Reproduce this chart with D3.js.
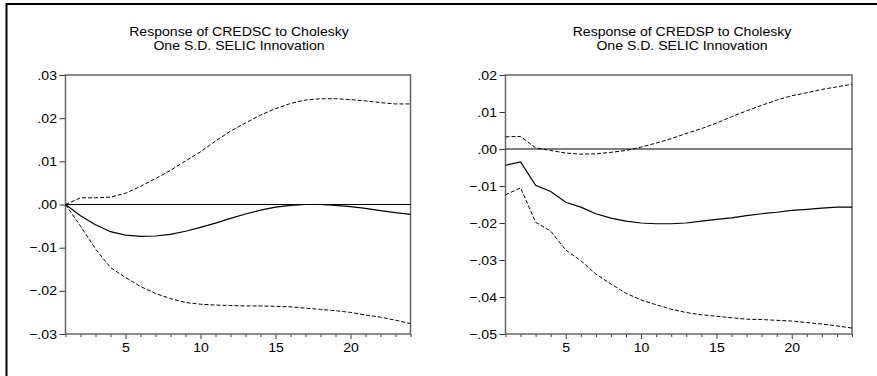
<!DOCTYPE html>
<html lang="en">
<head>
<meta charset="UTF-8">
<title>Impulse responses</title>
<script src="https://d3js.org/d3.v7.min.js"></script>
<style>
  body { margin: 0; background: #fff; }
  svg text { font-family: Arial, "Liberation Sans", sans-serif; fill: #000; }
</style>
</head>
<body>
<svg id="canvas" width="877" height="376"></svg>
<script>
// periods 1..24
const periods = d3.range(1, 25);

// CREDSC response and +/- 2 S.E. bands
const credscIrf = [0, -0.0026, -0.0047, -0.0063, -0.0071, -0.0074, -0.0073, -0.0069, -0.0062, -0.0053,
  -0.0043, -0.0032, -0.0022, -0.0013, -0.0006, -0.0002, 0.0000, 0.0000, -0.0002, -0.0005,
  -0.0009, -0.0014, -0.0019, -0.0023];
const credscUpper = [0, 0.00155, 0.00155, 0.0017, 0.0026, 0.0042, 0.0060, 0.0079, 0.0101, 0.0122,
  0.0147, 0.0170, 0.0189, 0.0207, 0.0222, 0.0234, 0.0242, 0.0245, 0.0245, 0.0243,
  0.0240, 0.0236, 0.0233, 0.0233];
const credscLower = [0, -0.0050, -0.0103, -0.0146, -0.0169, -0.0190, -0.0206, -0.0218, -0.0227, -0.0231,
  -0.0233, -0.0234, -0.0235, -0.0235, -0.0236, -0.0237, -0.0240, -0.0243, -0.0246, -0.0250,
  -0.0256, -0.0261, -0.0268, -0.0276];

// CREDSP response and bands
const credspIrf = [-0.0044, -0.0035, -0.0098, -0.0115, -0.0144, -0.0157, -0.0175, -0.0187, -0.0195, -0.0200,
  -0.0202, -0.0202, -0.0200, -0.0195, -0.0190, -0.0186, -0.0180, -0.0175, -0.0171, -0.0166,
  -0.0163, -0.0160, -0.0157, -0.0157];
const credspUpper = [0.0033, 0.0034, 0.0003, -0.0004, -0.0011, -0.0014, -0.0013, -0.0009, -0.0004, 0.0005,
  0.0016, 0.0028, 0.0042, 0.0055, 0.0070, 0.0087, 0.0103, 0.0118, 0.0132, 0.0144,
  0.0152, 0.0161, 0.0168, 0.0175];
const credspLower = [-0.0124, -0.0105, -0.0198, -0.0222, -0.0273, -0.0302, -0.0338, -0.0365, -0.0390, -0.0408,
  -0.0421, -0.0433, -0.0442, -0.0448, -0.0452, -0.0456, -0.0460, -0.0461, -0.0463, -0.0465,
  -0.0469, -0.0473, -0.0478, -0.0484];

const leftTicks = [0.03, 0.02, 0.01, 0, -0.01, -0.02, -0.03];
const rightTicks = [0.02, 0.01, 0, -0.01, -0.02, -0.03, -0.04, -0.05];
const xLabels = [5, 10, 15, 20];

const leftTitle = ["Response of CREDSC to Cholesky", "One S.D. SELIC Innovation"];
const rightTitle = ["Response of CREDSP to Cholesky", "One S.D. SELIC Innovation"];

const svg = d3.select("#canvas");

// outer frame (only top and left edges show)
svg.append("path")
  .attr("d", "M6.5,376 V4 H877")
  .attr("fill", "none")
  .attr("stroke", "#000")
  .attr("stroke-width", 2);

const fmt = v => d3.format(".2f")(v).replace("0.", ".");

function panel(opts) {
  const x = d3.scaleLinear().domain([1, 24]).range(opts.xr);
  const y = d3.scaleLinear().domain(opts.yd).range([334, 75]);
  const g = svg.append("g");

  // titles
  opts.title.forEach((t, i) => {
    g.append("text")
      .attr("transform", "translate(" + opts.tx + "," + (36 + i * 13.5) + ") scale(1.1,1)")
      .attr("text-anchor", "middle")
      .style("font-size", "12.8px")
      .text(t);
  });

  // y axis
  const ya = g.append("g")
    .attr("transform", "translate(" + opts.xr[0] + ",0)")
    .call(d3.axisLeft(y).tickValues(opts.yt).tickFormat(fmt).tickSize(6).tickPadding(3));
  ya.select(".domain").remove();
  ya.selectAll("line").attr("stroke", "#333");
  ya.selectAll("text")
    .style("font-size", "12.8px")
    .style("font-family", "Arial, 'Liberation Sans', sans-serif")
    .attr("transform", "scale(1.1,1)")
    .attr("x", -8.5 / 1.1);

  // x axis
  const xa = g.append("g")
    .attr("transform", "translate(0,334)")
    .call(d3.axisBottom(x).tickValues(periods)
      .tickFormat(d => xLabels.includes(d) ? d : "").tickSize(3).tickPadding(6));
  xa.select(".domain").remove();
  xa.selectAll("line").attr("stroke", "#333");
  xa.selectAll(".tick").filter(d => xLabels.includes(d)).select("line").attr("y2", 5);
  xa.selectAll("text")
    .style("font-size", "12.8px")
    .style("font-family", "Arial, 'Liberation Sans', sans-serif")
    .attr("transform", "scale(1.1,1)")
    .attr("y", 9);

  // plot frame
  g.append("rect")
    .attr("x", opts.xr[0]).attr("y", 75)
    .attr("width", opts.xr[1] - opts.xr[0]).attr("height", 334 - 75)
    .attr("fill", "none")
    .attr("stroke", "#666")
    .attr("stroke-width", 1.5);

  // zero line
  g.append("line")
    .attr("x1", opts.xr[0]).attr("x2", opts.xr[1])
    .attr("y1", y(0)).attr("y2", y(0))
    .attr("stroke", "#000").attr("stroke-width", 1);

  const line = d3.line().x((d, i) => x(periods[i])).y(d => y(d));

  g.append("path").datum(opts.upper)
    .attr("d", line).attr("fill", "none")
    .attr("stroke", "#000").attr("stroke-width", 1).attr("stroke-dasharray", "4,2");
  g.append("path").datum(opts.lower)
    .attr("d", line).attr("fill", "none")
    .attr("stroke", "#000").attr("stroke-width", 1).attr("stroke-dasharray", "4,2");
  g.append("path").datum(opts.irf)
    .attr("d", line).attr("fill", "none")
    .attr("stroke", "#000").attr("stroke-width", 1.2);
}

panel({ xr: [65.5, 410.5], yd: [-0.03, 0.03], yt: leftTicks, title: leftTitle, tx: 239,
  irf: credscIrf, upper: credscUpper, lower: credscLower });
panel({ xr: [505.5, 852], yd: [-0.05, 0.02], yt: rightTicks, title: rightTitle, tx: 682,
  irf: credspIrf, upper: credspUpper, lower: credspLower });
</script>
</body>
</html>
